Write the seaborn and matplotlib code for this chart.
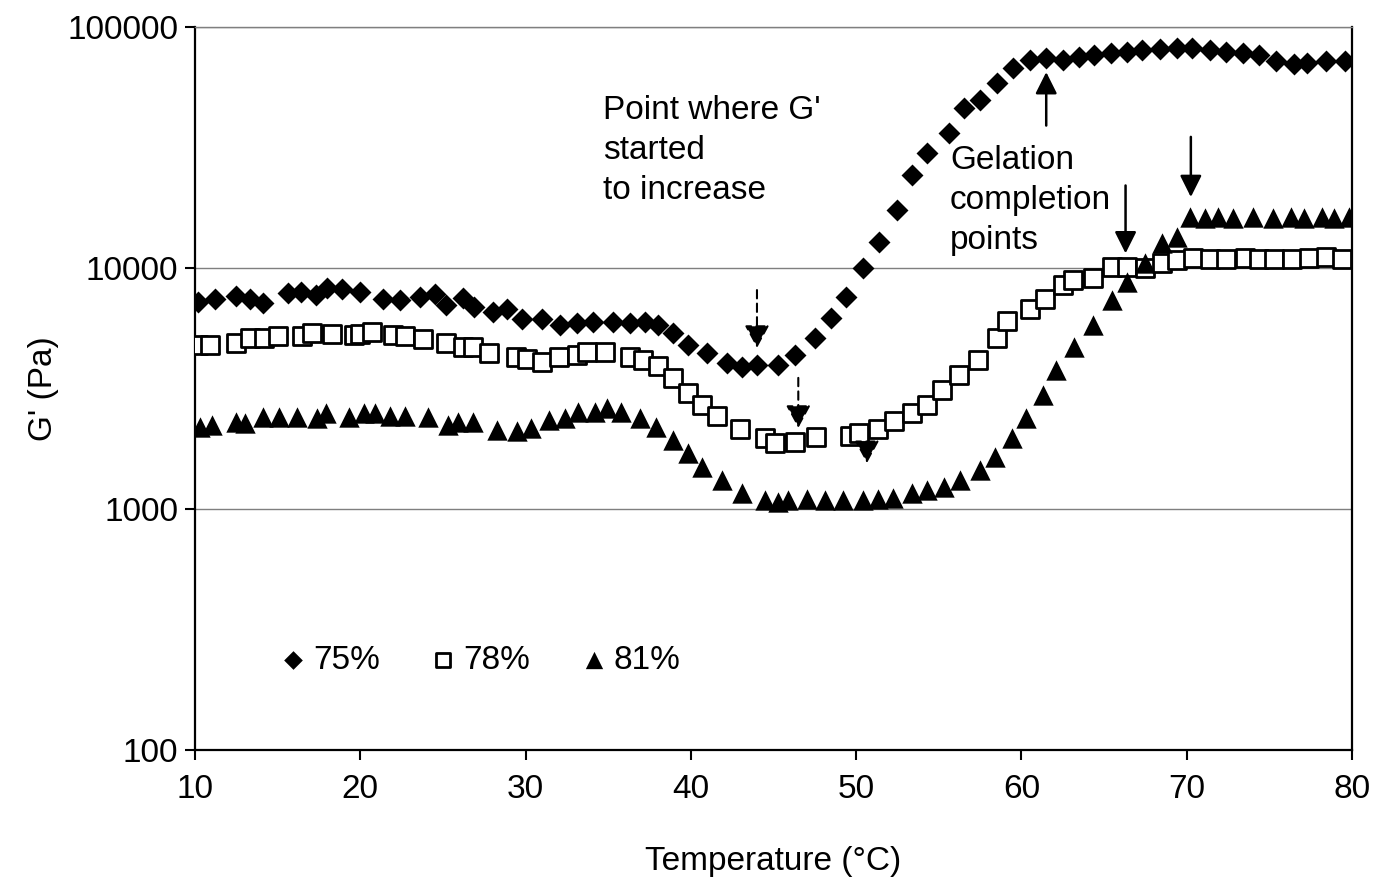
import matplotlib
matplotlib.use("Agg")
import matplotlib.pyplot as plt
import seaborn as sns
import pandas as pd
from matplotlib.ticker import FixedLocator, FixedFormatter, NullLocator

# ---------------- data ----------------
t75 = [10.2, 11.2, 12.5, 13.3, 14.1, 15.6, 16.4, 17.3, 18.0, 18.9, 20.0, 21.4, 22.4, 23.6, 24.5,
       25.2, 26.2, 26.9, 28.0, 28.9, 29.8, 31.0, 32.1, 33.1, 34.1, 35.3, 36.3, 37.2, 38.0, 38.9,
       39.8, 41.0, 42.2, 43.1, 44.0, 45.3, 46.3, 47.5, 48.5, 49.4, 50.4, 51.4, 52.5, 53.4, 54.3,
       55.6, 56.5, 57.5, 58.5, 59.5, 60.5, 61.5, 62.5, 63.5, 64.4, 65.4, 66.4, 67.3, 68.4, 69.4,
       70.3, 71.4, 72.4, 73.4, 74.4, 75.4, 76.5, 77.3, 78.4, 79.6]
g75 = [7230, 7430, 7660, 7430, 7160, 7870, 7950, 7700, 8260, 8170, 7950, 7430, 7350, 7580, 7800,
       7010, 7500, 6890, 6560, 6760, 6140, 6140, 5800, 5900, 5970, 5970, 5900, 5970, 5800, 5370,
       4790, 4430, 4030, 3880, 3960, 3960, 4360, 5130, 6210, 7590, 10000, 12800, 17400, 24300, 30000,
       36300, 46100, 49700, 58600, 67600, 72900, 74300, 72900, 75100, 76600, 78000, 78700, 80300, 81000, 81500,
       82000, 80000, 79000, 78000, 76500, 72000, 70000, 71000, 72000, 72500]

t78 = [10.2, 10.9, 12.5, 13.3, 14.2, 15.0, 16.5, 17.1, 18.3, 19.6, 20.0, 20.7, 22.0, 22.7, 23.8,
       25.2, 26.2, 26.8, 27.8, 29.4, 30.1, 31.0, 32.0, 33.1, 33.7, 34.8, 36.3, 37.1, 38.0, 38.9,
       39.8, 40.7, 41.6, 43.0, 44.5, 45.1, 46.3, 47.6, 49.6, 50.2, 51.3, 52.3, 53.4, 54.3, 55.2,
       56.2, 57.4, 58.5, 59.1, 60.5, 61.4, 62.5, 63.1, 64.3, 65.5, 66.4, 67.5, 68.5, 69.4, 70.4,
       71.4, 72.4, 73.5, 74.4, 75.3, 76.4, 77.4, 78.4, 79.4]
g78 = [4780, 4780, 4890, 5130, 5130, 5230, 5230, 5370, 5320, 5270, 5320, 5420, 5270, 5230, 5070,
       4890, 4700, 4700, 4430, 4270, 4190, 4070, 4270, 4350, 4480, 4480, 4270, 4150, 3920, 3500,
       3030, 2700, 2430, 2150, 1970, 1880, 1900, 1990, 2010, 2070, 2150, 2320, 2500, 2700, 3120,
       3600, 4150, 5130, 6030, 6760, 7430, 8490, 8910, 9090, 10100, 10100, 10000, 10500, 10800, 11000,
       10900, 10900, 11000, 10900, 10900, 10900, 11000, 11100, 10900]

t81 = [10.3, 11.0, 12.5, 13.0, 14.1, 15.1, 16.2, 17.4, 17.9, 19.3, 20.2, 20.9, 21.8, 22.7, 24.1,
       25.3, 25.9, 26.8, 28.3, 29.5, 30.3, 31.4, 32.4, 33.2, 34.2, 34.9, 35.8, 36.9, 37.9, 38.9,
       39.8, 40.7, 41.9, 43.1, 44.5, 45.3, 45.9, 47.0, 48.1, 49.2, 50.4, 51.3, 52.2, 53.4, 54.3,
       55.3, 56.3, 57.5, 58.4, 59.4, 60.3, 61.3, 62.1, 63.2, 64.3, 65.5, 66.4, 67.5, 68.5, 69.4,
       70.2, 71.1, 71.9, 72.8, 74.0, 75.2, 76.3, 77.1, 78.2, 78.9, 79.8]
g81 = [2190, 2230, 2300, 2280, 2410, 2410, 2410, 2390, 2500, 2410, 2500, 2500, 2430, 2430, 2410,
       2230, 2300, 2300, 2130, 2110, 2170, 2340, 2390, 2520, 2520, 2620, 2520, 2390, 2190, 1930,
       1710, 1490, 1320, 1160, 1090, 1070, 1090, 1100, 1090, 1090, 1090, 1100, 1110, 1160, 1200,
       1230, 1320, 1450, 1640, 1970, 2390, 2970, 3770, 4700, 5800, 7360, 8750, 10500, 12700, 13500,
       16300, 16200, 16300, 16100, 16300, 16200, 16300, 16100, 16300, 16200, 16300]

series_labels = ["75%", "78%", "81%"]
y_ticks = [100, 1000, 10000, 100000]
y_tick_labels = ["100", "1000", "10000", "100000"]
x_ticks = [10, 20, 30, 40, 50, 60, 70, 80]

# annotation arrows (tail -> tip), in data coordinates
dashed_arrows = [((44.0, 8100), (44.0, 4660)),
                 ((46.5, 3500), (46.5, 2170)),
                 ((50.65, 1840), (50.65, 1550))]
solid_arrows = [((61.5, 39000), (61.5, 65000)),
                ((66.3, 22000), (66.3, 11500)),
                ((70.25, 35000), (70.25, 19700))]

# ---------------- style ----------------
sns.set_theme(style="white")
plt.rcParams["font.family"] = ["Liberation Sans", "DejaVu Sans"]
plt.rcParams["text.color"] = "black"
plt.rcParams["axes.labelcolor"] = "black"
FS = 24

fig = plt.figure(figsize=(13.74, 8.88), dpi=100)
ax = fig.add_axes([195 / 1374, 1 - 750 / 888, 1157 / 1374, 723 / 888])

df75 = pd.DataFrame({"T": t75, "G": g75})
df78 = pd.DataFrame({"T": t78, "G": g78})
df81 = pd.DataFrame({"T": t81, "G": g81})

sns.scatterplot(data=df75, x="T", y="G", marker="D", s=125, color="black",
                edgecolor="black", linewidth=0, label=series_labels[0], ax=ax, zorder=3)
sns.scatterplot(data=df78, x="T", y="G", marker="s", s=150, color="white",
                edgecolor="black", linewidth=2.0, label=series_labels[1], ax=ax, zorder=3)
sns.scatterplot(data=df81, x="T", y="G", marker="^", s=215, color="black",
                edgecolor="black", linewidth=0, label=series_labels[2], ax=ax, zorder=3)

ax.set_yscale("log")
ax.set_xlim(10, 80)
ax.set_ylim(100, 100000)
ax.yaxis.set_major_locator(FixedLocator(y_ticks))
ax.yaxis.set_major_formatter(FixedFormatter(y_tick_labels))
ax.yaxis.set_minor_locator(NullLocator())
ax.set_xticks(x_ticks)
ax.set_xticklabels([str(v) for v in x_ticks])

ax.grid(False)
for yv in y_ticks[1:]:
    ax.axhline(yv, color="#7f7f7f", lw=1.0, zorder=1)

for side in ["left", "bottom", "right"]:
    ax.spines[side].set_color("black")
    ax.spines[side].set_linewidth(1.6)
ax.spines["top"].set_color("#7f7f7f")
ax.spines["top"].set_linewidth(1.0)

ax.tick_params(axis="both", which="major", direction="out", length=7, width=1.5,
               labelsize=FS, colors="black", left=True, bottom=True)
ax.tick_params(axis="y", pad=5)
ax.tick_params(axis="x", pad=10)

ax.set_xlabel("Temperature (°C)", fontsize=FS, labelpad=30, color="black")
ax.set_ylabel("G' (Pa)", fontsize=FS, labelpad=6, color="black")

leg = ax.legend(loc="center", bbox_to_anchor=(0.248, 0.124), ncol=3, frameon=False,
                fontsize=FS, handlelength=0.6, handletextpad=0.3, columnspacing=1.6,
                markerscale=0.85, borderpad=0)
for txt in leg.get_texts():
    txt.set_color("black")

ax.text(0.3526, 0.906, "Point where G'\nstarted\nto increase", transform=ax.transAxes,
        fontsize=FS, va="top", ha="left", color="black", linespacing=1.38)
ax.text(0.6526, 0.837, "Gelation\ncompletion\npoints", transform=ax.transAxes,
        fontsize=FS, va="top", ha="left", color="black", linespacing=1.38)

for tail, tip in dashed_arrows:
    ax.annotate("", xy=tip, xytext=tail,
                arrowprops=dict(arrowstyle="-|>,head_length=0.7,head_width=0.38",
                                mutation_scale=20, lw=1.5, color="black",
                                linestyle=(0, (4, 2.5)), shrinkA=0, shrinkB=0), zorder=4)
for tail, tip in solid_arrows:
    ax.annotate("", xy=tip, xytext=tail,
                arrowprops=dict(arrowstyle="-|>,head_length=0.6,head_width=0.3",
                                mutation_scale=22, lw=1.8, color="black",
                                shrinkA=0, shrinkB=0), zorder=4)

fig.savefig("out.png", dpi=100, facecolor="white")
